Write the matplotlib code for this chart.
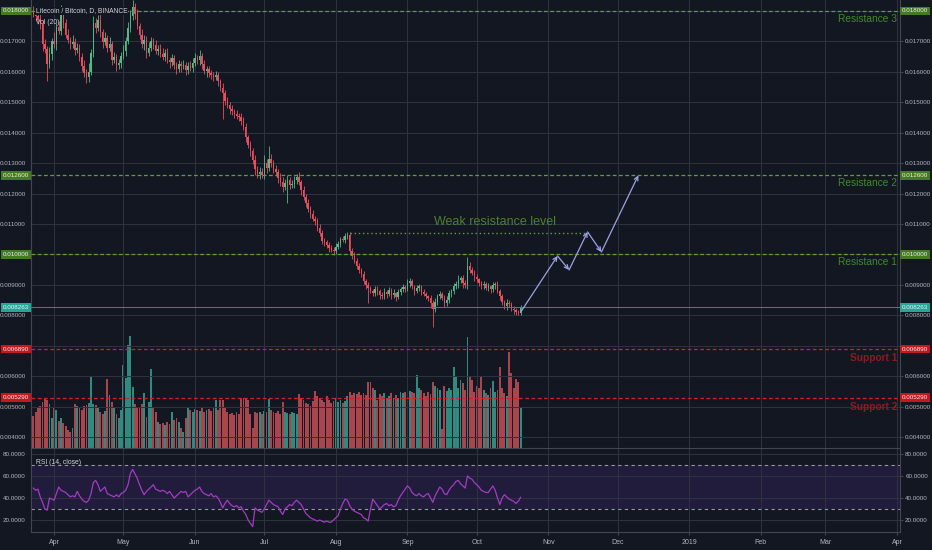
import numpy as np
import pandas as pd
import matplotlib
matplotlib.use('Agg')
import matplotlib.pyplot as plt
import matplotlib.dates as mdates
from matplotlib.transforms import blended_transform_factory
from matplotlib.patches import Rectangle

plt.rcParams['font.family'] = ['Liberation Sans', 'DejaVu Sans']

# ---- data (prices in 1e-5 BTC, daily candles from start_date) ----
start_date = '2018-03-23'
first_open = 1800
closes = [
    1790, 1782, 1770, 1758, 1690, 1675, 1625,
    1660, 1700, 1690, 1748, 1735, 1788, 1760,
    1722, 1705, 1690, 1698, 1672, 1680, 1650,
    1620, 1595, 1582, 1600, 1662, 1760, 1745,
    1772, 1730, 1698, 1712, 1680, 1690, 1638,
    1650, 1622, 1628, 1652, 1668, 1702, 1745,
    1782, 1812, 1790, 1750, 1722, 1690, 1705,
    1662, 1680, 1702, 1688, 1670, 1676, 1660,
    1650, 1662, 1640, 1632, 1645, 1622, 1610,
    1625, 1618, 1622, 1605, 1620, 1612, 1630,
    1645, 1638, 1652, 1625, 1602, 1608, 1595,
    1590, 1582, 1588, 1570, 1548, 1530, 1505,
    1490, 1478, 1470, 1462, 1455, 1450, 1440,
    1420, 1385, 1360, 1340, 1310, 1280, 1265,
    1270, 1262, 1300, 1285, 1315, 1300, 1282,
    1270, 1252, 1238, 1222, 1235, 1245, 1228,
    1232, 1245, 1255, 1238, 1212, 1190, 1170,
    1150, 1132, 1118, 1110, 1088, 1072, 1045,
    1040, 1030, 1022, 1015, 1010, 1025, 1035,
    1050, 1048, 1060, 1065, 1012, 995, 980,
    962, 950, 935, 912, 900, 890, 880,
    872, 885, 880, 868, 862, 875, 870,
    882, 866, 872, 860, 878, 885, 892,
    888, 905, 912, 895, 880, 890, 895,
    878, 870, 862, 858, 840, 822, 845,
    862, 870, 858, 842, 850, 872, 880,
    895, 902, 915, 922, 905, 898, 962,
    948, 940, 925, 918, 905, 898, 902,
    890, 895, 886, 898, 902, 880, 862,
    845, 830, 842, 838, 822, 818, 812,
    808, 826.3,
]
upper_wicks = [
    15, 10, 12, 20, 14, 18, 10,
    22, 12, 30, 14, 20, 32, 12,
    14, 18, 10, 22, 12, 16, 10,
    12, 20, 14, 30, 12, 22, 18,
    16, 20, 12, 18, 10, 24, 12,
    16, 10, 14, 12, 20, 14, 18,
    20, 25, 14, 18, 12, 20, 16,
    12, 18, 14, 10, 16, 12, 14,
    20, 12, 16, 10, 14, 12, 10,
    14, 12, 18, 10, 12, 16, 14,
    18, 12, 20, 10, 14, 12, 10,
    12, 10, 16, 12, 8, 14, 10,
    12, 10, 14, 8, 12, 10, 14,
    10, 12, 8, 14, 10, 18, 12,
    16, 14, 28, 12, 40, 14, 10,
    12, 10, 14, 18, 12, 16, 10,
    14, 12, 10, 16, 8, 12, 10,
    12, 10, 14, 8, 10, 12, 8,
    10, 8, 12, 10, 8, 12, 10,
    8, 12, 10, 8, 10, 8, 12,
    8, 10, 6, 12, 8, 10, 6,
    8, 10, 12, 6, 8, 16, 8,
    10, 8, 14, 6, 10, 8, 12,
    8, 14, 10, 8, 6, 10, 8,
    6, 10, 8, 6, 8, 10, 12,
    8, 10, 6, 8, 12, 10, 8,
    12, 10, 16, 8, 10, 12, 28,
    12, 10, 8, 10, 6, 8, 12,
    8, 10, 6, 12, 8, 10, 6,
    8, 6, 10, 8, 6, 8, 6,
    6, 8,
]
lower_wicks = [
    10, 14, 12, 18, 20, 12, 55,
    14, 20, 12, 18, 10, 14, 16,
    12, 10, 16, 12, 18, 10, 14,
    16, 12, 20, 14, 10, 12, 16,
    12, 14, 18, 10, 16, 12, 14,
    10, 20, 12, 14, 10, 16, 12,
    14, 12, 16, 10, 14, 12, 18,
    16, 10, 12, 14, 10, 16, 12,
    12, 14, 10, 18, 12, 14, 16,
    12, 20, 10, 14, 12, 10, 14,
    10, 12, 14, 16, 10, 18, 12,
    14, 12, 10, 16, 12, 85, 14,
    10, 16, 12, 14, 10, 12, 16,
    12, 14, 10, 18, 12, 20, 14,
    18, 12, 14, 16, 10, 12, 14,
    12, 16, 14, 18, 10, 66, 12,
    10, 14, 12, 10, 16, 12, 14,
    10, 12, 8, 14, 10, 12, 10,
    12, 10, 14, 8, 12, 10, 8,
    10, 8, 12, 10, 14, 10, 8,
    10, 12, 8, 10, 14, 50, 8,
    10, 8, 12, 16, 10, 8, 12,
    8, 12, 10, 14, 8, 10, 8,
    10, 8, 12, 10, 14, 8, 10,
    12, 8, 10, 12, 16, 62, 10,
    12, 10, 8, 14, 10, 8, 12,
    10, 8, 12, 10, 14, 8, 12,
    10, 8, 12, 10, 8, 12, 10,
    8, 10, 12, 8, 10, 8, 12,
    10, 8, 12, 10, 8, 14, 10,
    8, 6,
]
volumes = [
    32, 36, 40, 42, 46, 49, 48,
    44, 30, 41, 38, 27, 30, 25,
    22, 18, 16, 20, 44, 42, 40,
    38, 42, 43, 45, 71, 44, 43,
    40, 36, 34, 37, 69, 53, 46,
    40, 34, 30, 38, 83, 70, 103,
    112, 61, 44, 41, 40, 44, 55,
    31, 46, 79, 40, 36, 26, 24,
    25, 23, 26, 24, 36, 28, 30,
    26, 20, 16, 30, 40, 38, 36,
    39, 38, 37, 40, 36, 38, 39,
    37, 40, 48, 38, 48, 48, 40,
    36, 34, 35, 33, 36, 34, 50,
    50, 49, 48, 34, 20, 36, 35,
    36, 34, 37, 36, 49, 38, 36,
    35, 37, 34, 46, 36, 35, 34,
    36, 35, 34, 54, 50, 48, 45,
    44, 42, 47, 57, 52, 50, 48,
    46, 52, 48, 45, 47, 50, 46,
    48, 45, 47, 52, 56, 53, 55,
    54, 56, 53, 55, 53, 66, 66,
    60, 58, 48, 54, 52, 55, 50,
    52, 55, 50, 53, 50, 56, 55,
    56, 54, 57, 56, 55, 73, 60,
    58, 55, 52, 56, 54, 66, 62,
    60, 58, 19, 62, 57, 60, 58,
    81, 71, 60, 68, 65, 58, 111,
    71, 68, 56, 62, 60, 71, 58,
    55, 53, 60, 67, 56, 58, 81,
    60, 55, 52, 96, 75, 60, 69,
    66, 41,
]
rsi = [
    49, 47, 48, 41, 36, 30, 29,
    40, 39, 38, 44, 50, 47, 46,
    45, 43, 41, 42, 41, 46, 42,
    39, 37, 36, 38, 44, 54, 56,
    52, 46, 48, 50, 44, 43, 42,
    41, 43, 41, 44, 45, 47, 52,
    62, 66, 62, 58, 52, 47, 43,
    46, 48, 50, 52, 48, 47, 46,
    47, 46, 44, 46, 43, 40, 42,
    44, 46, 45, 46, 41, 43, 45,
    47, 48, 50, 46, 44, 43, 42,
    44, 41, 42, 40, 36, 31, 35,
    38, 35, 33, 32, 33, 31, 32,
    28, 25, 20, 17, 14, 31, 29,
    28, 27, 30, 34, 38, 36, 34,
    33, 32, 28, 25, 30, 32, 34,
    33, 36, 38, 36, 34, 30, 26,
    24, 22, 21, 20, 19, 20, 19,
    18, 19, 18, 18, 20, 22, 24,
    30, 35, 39, 38, 33, 30, 28,
    27, 26, 25, 22, 21, 19, 30,
    39, 36, 33, 30, 32, 34, 35,
    33, 34, 32, 33, 38, 42, 45,
    48, 51, 49, 45, 43, 42, 44,
    42, 41, 43, 44, 40, 36, 42,
    46, 50, 48, 44, 43, 47, 50,
    52, 55, 56, 53, 51, 49, 60,
    58, 57, 54, 52, 50, 47, 46,
    45, 45, 48, 51, 47, 40, 34,
    40, 43, 41, 39, 38, 37, 35,
    37, 40.6,
]

resistance_levels = [0.0180, 0.0126, 0.0100]
resistance_names = ['Resistance 3', 'Resistance 2', 'Resistance 1']
support_levels = [0.00689, 0.00529]
support_names = ['Support 1', 'Support 2']
weak_level = 0.0107
weak_span = ['2018-08-07', '2018-11-18']
weak_label_date = '2018-10-09'
last_price = 0.008263

# projected path drawn as arrows
path_dates = ['2018-10-20', '2018-11-05', '2018-11-10', '2018-11-18', '2018-11-24', '2018-12-10']
path_prices = [0.00810, 0.00995, 0.00949, 0.01074, 0.01008, 0.01260]

month_starts = pd.date_range('2018-04-01', '2019-04-01', freq='MS')
month_labels = ['Apr', 'May', 'Jun', 'Jul', 'Aug', 'Sep', 'Oct', 'Nov', 'Dec',
                '2019', 'Feb', 'Mar', 'Apr']
price_ticks = [0.004, 0.005, 0.006, 0.007, 0.008, 0.009, 0.010, 0.011,
               0.012, 0.013, 0.014, 0.015, 0.016, 0.017, 0.018]
rsi_ticks = [20, 40, 60, 80]

view_start = '2018-03-22'
view_end = '2019-04-02 07:00'

# ---- colours ----
bg = '#131722'
grid_c = '#2e3241'
spine_c = '#434651'
text_c = '#b2b5be'
up_c = '#53b987'
down_c = '#eb4d5c'
vol_up = '#2f8a80'
vol_down = '#a9464d'
green_line = '#5fa02c'
green_text = '#3f8a2a'
green_box = '#437a22'
red_line = '#d0202a'
red_text = '#8e1b20'
red_box = '#c2181f'
teal = '#26a69a'

dates = pd.date_range(start_date, periods=len(closes))
x = mdates.date2num(dates)
c = np.array(closes) / 1e5
o = np.r_[first_open, closes[:-1]] / 1e5
hi = np.maximum(o, c) + np.array(upper_wicks) / 1e5
lo = np.minimum(o, c) - np.array(lower_wicks) / 1e5
up = c >= o
cols = np.where(up, up_c, down_c)

fig = plt.figure(figsize=(9.32, 5.5), dpi=100, facecolor=bg)
L, W = 31 / 932, 869 / 932
ax_vol = fig.add_axes([L, 102 / 550, W, 448 / 550])
ax = fig.add_axes([L, 102 / 550, W, 448 / 550], sharex=ax_vol)
ax_rsi = fig.add_axes([L, 18 / 550, W, 83 / 550], sharex=ax_vol)

xmin = mdates.date2num(pd.Timestamp(view_start))
xmax = mdates.date2num(pd.Timestamp(view_end))

# volume (behind the price pane)
ax_vol.set_facecolor(bg)
ax_vol.bar(x, volumes, width=0.8, color=np.where(up, vol_up, vol_down), linewidth=0)
ax_vol.set_ylim(0, 448)
ax_vol.set_xlim(xmin, xmax)
ax_vol.axis('off')

# price pane
badge_levels = resistance_levels + support_levels + [last_price]
ax.set_facecolor('none')
ax.set_ylim(0.003639, 0.018361)
ax.set_xticks(mdates.date2num(month_starts))
ax.set_yticks(price_ticks)
ax.set_yticklabels(['' if any(abs(t - b) < 2e-4 for b in badge_levels) else f'{t:.6f}'
                    for t in price_ticks])
ax.grid(True, color=grid_c, lw=0.7)
ax.tick_params(axis='x', labelbottom=False, length=0)
ax.tick_params(axis='y', left=False, right=True, labelleft=True, labelright=True,
               labelsize=4.5, colors=text_c, length=2.5, pad=1.2, color=spine_c)
for s in ['left', 'right', 'bottom']:
    ax.spines[s].set_color(spine_c)
    ax.spines[s].set_linewidth(0.8)
ax.spines['top'].set_visible(False)

ax.vlines(x, lo, hi, colors=cols, lw=0.6, zorder=3)
ax.bar(x, np.maximum(np.abs(c - o), 0.000012), bottom=np.minimum(o, c), width=0.62,
       color=cols, linewidth=0, zorder=4)

blend = blended_transform_factory(ax.transAxes, ax.transData)

def badge(y, label, fc, tc='#f0f0f0'):
    for xp, ha in [(1.0 + 2 / 869, 'left'), (-2 / 869, 'right')]:
        ax.text(xp, y, label, transform=blend, ha=ha, va='center', fontsize=4.5,
                color=tc, clip_on=False, zorder=20,
                bbox=dict(boxstyle='square,pad=0.3', fc=fc, ec='none'))

for lvl, name in zip(resistance_levels, resistance_names):
    ax.axhline(lvl, color=green_line, lw=0.9, ls=(0, (3, 2)), zorder=5)
    ax.annotate(name, xy=(0.9965, lvl), xycoords=blend, xytext=(0, -2),
                textcoords='offset points', ha='right', va='top',
                fontsize=7.3, color=green_text, zorder=6)
    badge(lvl, f'{lvl:.6f}', green_box)

for lvl, name in zip(support_levels, support_names):
    ax.axhline(lvl, color=red_line, lw=0.9, ls=(0, (3, 2)), zorder=5)
    ax.annotate(name, xy=(0.9965, lvl), xycoords=blend, xytext=(0, -3),
                textcoords='offset points', ha='right', va='top',
                fontsize=7.3, fontweight='bold', color=red_text, zorder=6)
    badge(lvl, f'{lvl:.6f}', red_box)

ax.axhline(last_price, color='#2b8f86', lw=0.7, zorder=5)
badge(last_price, f'{last_price:.6f}', teal)

wx = mdates.date2num(pd.to_datetime(weak_span))
ax.hlines(weak_level, wx[0], wx[1], color='#6e9a3c', lw=1.0, ls=(0, (1, 2)), zorder=5)
ax.annotate('Weak resistance level', xy=(mdates.date2num(pd.Timestamp(weak_label_date)), weak_level),
            xytext=(0, 4), textcoords='offset points', ha='center', va='bottom',
            fontsize=9, color='#4f8030', zorder=6)

px = mdates.date2num(pd.to_datetime(path_dates))
for i in range(len(px) - 1):
    ax.annotate('', xy=(px[i + 1], path_prices[i + 1]), xytext=(px[i], path_prices[i]),
                arrowprops=dict(arrowstyle='->', color='#9ea2e2', lw=0.9,
                                shrinkA=0, shrinkB=0, mutation_scale=7), zorder=7)

ax.text(5 / 869, 1 - 11 / 448, 'Litecoin / Bitcoin, D, BINANCE', transform=ax.transAxes,
        va='center', fontsize=4.9, color='#d1d4dc', zorder=8,
        bbox=dict(boxstyle='square,pad=0.1', fc=bg, ec='none'))
ax.text(5 / 869, 1 - 22 / 448, 'Vol (20)', transform=ax.transAxes,
        va='center', fontsize=4.9, color='#d1d4dc', zorder=8)

# RSI pane
ax_rsi.set_facecolor(bg)
ax_rsi.set_ylim(9.1, 84.5)
ax_rsi.set_xlim(xmin, xmax)
ax_rsi.axhspan(30, 70, color='#6a2fc0', alpha=0.17, lw=0)
ax_rsi.axhline(70, color='#9598a1', lw=0.8, ls=(0, (3, 3)))
ax_rsi.axhline(30, color='#9598a1', lw=0.8, ls=(0, (3, 3)))
ax_rsi.plot(x, rsi, color='#a23dc2', lw=0.9)
ax_rsi.set_yticks(rsi_ticks)
ax_rsi.set_yticklabels([f'{t:.4f}' for t in rsi_ticks])
ax_rsi.set_xticks(mdates.date2num(month_starts))
ax_rsi.set_xticklabels(month_labels)
ax_rsi.grid(True, color=grid_c, lw=0.7)
ax_rsi.tick_params(axis='y', left=False, right=True, labelleft=True, labelright=True,
                   labelsize=4.5, colors=text_c, length=2.5, pad=1.2, color=spine_c)
ax_rsi.tick_params(axis='x', labelsize=5, colors=text_c, length=2, pad=3, color=spine_c)
for s in ['left', 'right', 'bottom']:
    ax_rsi.spines[s].set_color(spine_c)
    ax_rsi.spines[s].set_linewidth(0.8)
ax_rsi.spines['top'].set_visible(False)
ax_rsi.text(5 / 869, 1 - 13 / 83, 'RSI (14, close)', transform=ax_rsi.transAxes,
            va='center', fontsize=4.9, color='#d1d4dc')

ax.set_xlim(xmin, xmax)

# hide the cut-off part of the last date label past the price scale
fig.patches.append(Rectangle((903 / 932, 0), 29 / 932, 17 / 550, transform=fig.transFigure,
                             fc=bg, ec='none', zorder=5))

fig.savefig('out.png', dpi=100, facecolor=bg)
